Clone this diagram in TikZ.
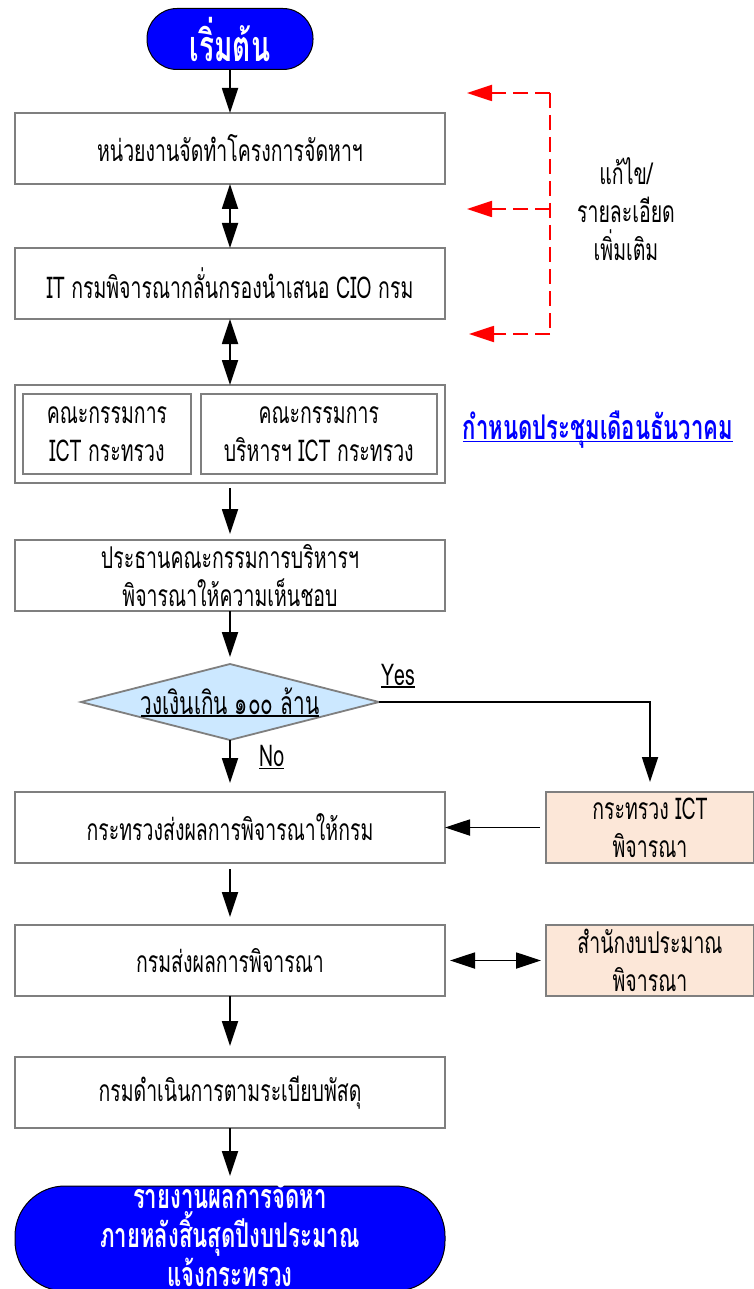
\documentclass[tikz,border=0pt]{standalone}
\usepackage{fontspec}
\setmainfont[Script=Thai,FakeStretch=0.65]{Loma}
\usetikzlibrary{arrows.meta,shapes,positioning}
\definecolor{linegray}{HTML}{7F7F7F}
\definecolor{lightsky}{HTML}{CCE8FF}
\definecolor{peach}{HTML}{FCE7D8}
\newcommand\lineunder[1]{\setbox0=\hbox{#1}\rlap{\rule[-2.5pt]{\wd0}{1.3pt}}\box0}
\tikzset{
  basic/.style    = {draw=linegray, line width=1.8pt, outer sep=0pt, rectangle, align=center, font=\fontsize{30}{38}\selectfont},
  process/.style  = {basic, minimum width=430pt, minimum height=71pt},
  inner/.style    = {basic, minimum height=80pt},
  side/.style     = {basic, fill=peach, minimum width=208pt, minimum height=71pt},
  terminal/.style = {draw=black, line width=1pt, outer sep=0pt, fill=blue, text=white, align=center, font=\bfseries\fontsize{34}{39}\selectfont},
  decision/.style = {diamond, aspect=3.9, draw=linegray, line width=1.8pt, outer sep=0pt, fill=lightsky, minimum width=298pt, minimum height=76pt, inner sep=0pt, font=\fontsize{32}{34}\selectfont},
  flow/.style     = {->, draw, line width=1.8pt},
  fixback/.style  = {-{Triangle[length=25pt,width=16pt]}, red, line width=1.8pt, dash pattern=on 15pt off 7pt},
  note/.style     = {align=center, font=\fontsize{30}{38}\selectfont}
}

\begin{document}
\begin{tikzpicture}[x=1pt, y=-1pt, >={Triangle[length=25pt,width=16pt]}]
\useasboundingbox (0,0) rectangle (753,1289);

% main column, placed one below the other
\node[process] (unit) at (230,148.5) {หน่วยงานจัดทำโครงการจัดหาฯ};
\node[terminal, rounded corners=30pt, minimum width=166pt, minimum height=61pt,
  font=\bfseries\fontsize{43}{43}\selectfont, above=43.5pt of unit] (start) {เริ่มต้น};
\node[process, below=64pt of unit] (itdept) {IT กรมพิจารณากลั่นกรองนำเสนอ CIO กรม};
\node[process, minimum height=98pt, below=66pt of itdept] (comm) {};
\node[inner, minimum width=168pt, anchor=north west] (ictcomm)
  at ([xshift=8pt,yshift=-9pt]comm.north west) {คณะกรรมการ\\ICT กระทรวง};
\node[inner, minimum width=236pt, right=9.8pt of ictcomm] (mgmtcomm) {คณะกรรมการ\\บริหารฯ ICT กระทรวง};
\node[process, below=57pt of comm] (chair) {ประธานคณะกรรมการบริหารฯ\\พิจารณาให้ความเห็นชอบ};
\node[decision, below=53pt of chair] (money) {\lineunder{วงเงินเกิน ๑๐๐ ล้าน}};
\node[process, below=52pt of money] (ministry) {กระทรวงส่งผลการพิจารณาให้กรม};
\node[process, below=62pt of ministry] (dept) {กรมส่งผลการพิจารณา};
\node[process, below=61pt of dept] (procure) {กรมดำเนินการตามระเบียบพัสดุ};
\node[terminal, rounded corners=50pt, minimum width=430pt, minimum height=105pt,
  text height=96pt, text depth=0pt, below=58pt of procure] (report)
  {รายงานผลการจัดหา\\ภายหลังสิ้นสุดปีงบประมาณ\\แจ้งกระทรวง};

% right column
\node[side, right=101pt of ministry] (ictmin) {กระทรวง ICT\\พิจารณา};
\node[side, right=101pt of dept] (budget) {สำนักงบประมาณ\\พิจารณา};
\node[font=\bfseries\fontsize{34}{36}\selectfont, text=blue] (meeting) at (598,430)
  {\lineunder{กำหนดประชุมเดือนธันวาคม}};
\node[note] (fixnote) at (626,209) {แก้ไข/\\รายละเอียด\\เพิ่มเติม};

% connectors
\draw[flow] (start) -- (unit);
\draw[flow, <->] (unit) -- (itdept);
\draw[flow, <->] (itdept) -- (comm);
\draw[flow, shorten <=5pt, shorten >=6pt] (comm) -- (chair);
\draw[flow, shorten >=7pt] (chair) -- (money);
\draw[flow, shorten >=9pt] (money) -- node[pos=0.33, right=25pt, font=\fontsize{30}{32}\selectfont] {\lineunder{No}} (ministry);
\draw[flow, shorten >=10pt] (money.east) -| node[pos=0.035, above=10pt, font=\fontsize{30}{32}\selectfont] {\lineunder{Yes}} (ictmin.north);
\draw[flow, shorten <=6pt] (ictmin) -- (ministry);
\draw[flow, shorten <=6pt, shorten >=8pt] (ministry) -- (dept);
\draw[flow, <->, shorten <=5pt, shorten >=5pt] (dept) -- (budget);
\draw[flow, shorten >=11pt] (dept) -- (procure);
\draw[flow, shorten >=10pt] (procure) -- (report);

% revisions sent back
\coordinate (fixline1) at (550,93);
\coordinate (fixline2) at (550,209);
\coordinate (fixline3) at (550,334);
\coordinate (fixtip1) at (467,93);
\coordinate (fixtip2) at (467,209);
\coordinate (fixtip3) at (469,334);
\draw[red, line width=1.8pt, dash pattern=on 15pt off 7pt] (fixline1) -- (fixline3);
\draw[fixback] (fixline1) -- (fixtip1);
\draw[fixback] (fixline2) -- (fixtip2);
\draw[fixback] (fixline3) -- (fixtip3);
\end{tikzpicture}
\end{document}
